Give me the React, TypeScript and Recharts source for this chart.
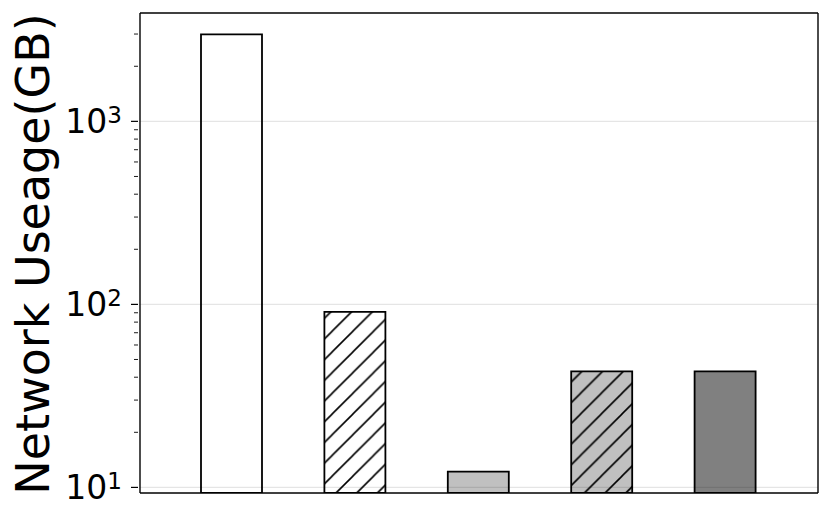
import { BarChart, Bar, Cell, XAxis, YAxis, ReferenceLine } from "recharts";

// system names are not shown on the axis; values read off the log scale
const systems = ["S1", "S2", "S3", "S4", "S5"];
const usageGB = [2990, 91, 12.2, 43, 43];

const majorTicks = [10, 100, 1000];
const minorTicks = [20, 30, 40, 50, 60, 70, 80, 90, 200, 300, 400, 500, 600, 700, 800, 900, 2000, 3000];

const barFills = ["#ffffff", "url(#hatchWhite)", "#c0c0c0", "url(#hatchSilver)", "#808080"];

const data = systems.map((name, i) => ({ name, usage: usageGB[i] }));

const FONT = "'DejaVu Sans', sans-serif";

function LogTick(props: { x?: number; y?: number; payload?: { value?: number } }) {
  const { x = 0, y = 0, payload } = props;
  const v = payload?.value ?? 0;
  const exp = Math.round(Math.log10(v));
  const isMajor = majorTicks.includes(v);
  const right = x + 7; // axis line position (tickSize offset)
  return (
    <g>
      <line
        x1={right - (isMajor ? 7 : 4)}
        x2={right}
        y1={y}
        y2={y}
        stroke="#000"
        strokeWidth={isMajor ? 1.2 : 0.9}
      />
      {isMajor && (
        <text x={right - 16} y={y + 12} textAnchor="end" fill="#000" fontFamily={FONT} fontSize={33}>
          10
          <tspan dy={-10} fontSize={23}>
            {exp}
          </tspan>
        </text>
      )}
    </g>
  );
}

function HatchPattern({ id, bg }: { id: string; bg: string }) {
  const p = 20.7;
  return (
    <pattern id={id} patternUnits="userSpaceOnUse" x={1} y={0} width={p} height={p}>
      <rect width={p} height={p} fill={bg} />
      <line x1={-1} y1={p + 1} x2={p + 1} y2={-1} stroke="#000" strokeWidth={1.6} />
      <line x1={-1} y1={1} x2={1} y2={-1} stroke="#000" strokeWidth={1.6} />
      <line x1={p - 1} y1={p + 1} x2={p + 1} y2={p - 1} stroke="#000" strokeWidth={1.6} />
    </pattern>
  );
}

const frameLine = { stroke: "#000", strokeWidth: 1.4 };

export default function App() {
  return (
    <div style={{ position: "absolute", left: 0, top: 0, background: "#fff" }}>
      <BarChart
        width={831}
        height={521}
        data={data}
        margin={{ top: 12, right: 12, bottom: 27, left: 0 }}
        barCategoryGap={0}
      >
        <defs>
          <HatchPattern id="hatchWhite" bg="#ffffff" />
          <HatchPattern id="hatchSilver" bg="#c0c0c0" />
        </defs>
        <XAxis
          dataKey="name"
          height={1}
          tick={false}
          tickLine={false}
          padding={{ left: 30, right: 31 }}
          axisLine={frameLine}
        />
        <XAxis
          xAxisId="top"
          dataKey="name"
          orientation="top"
          height={1}
          tick={false}
          tickLine={false}
          axisLine={frameLine}
        />
        <YAxis
          scale="log"
          domain={[9.32, 3909]}
          allowDataOverflow
          type="number"
          width={140}
          ticks={[...majorTicks, ...minorTicks]}
          interval={0}
          tickSize={7}
          tickLine={false}
          tick={<LogTick />}
          axisLine={frameLine}
          label={{
            content: () => (
              <text
                x={49}
                y={254}
                textAnchor="middle"
                transform="rotate(-90, 49, 254)"
                fill="#000"
                fontFamily={FONT}
                fontSize={46}
              >
                Network Useage(GB)
              </text>
            ),
          }}
        />
        <YAxis
          yAxisId="right"
          orientation="right"
          width={1}
          tick={false}
          tickLine={false}
          axisLine={frameLine}
        />
        <Bar
          dataKey="usage"
          barSize={61}
          stroke="#000"
          strokeWidth={1.8}
          isAnimationActive={false}
        >
          {data.map((d, i) => (
            <Cell key={d.name} fill={barFills[i]} />
          ))}
        </Bar>
        {majorTicks.map((v) => (
          <ReferenceLine key={v} y={v} stroke="rgba(0,0,0,0.1)" strokeWidth={1.2} />
        ))}
      </BarChart>
    </div>
  );
}
